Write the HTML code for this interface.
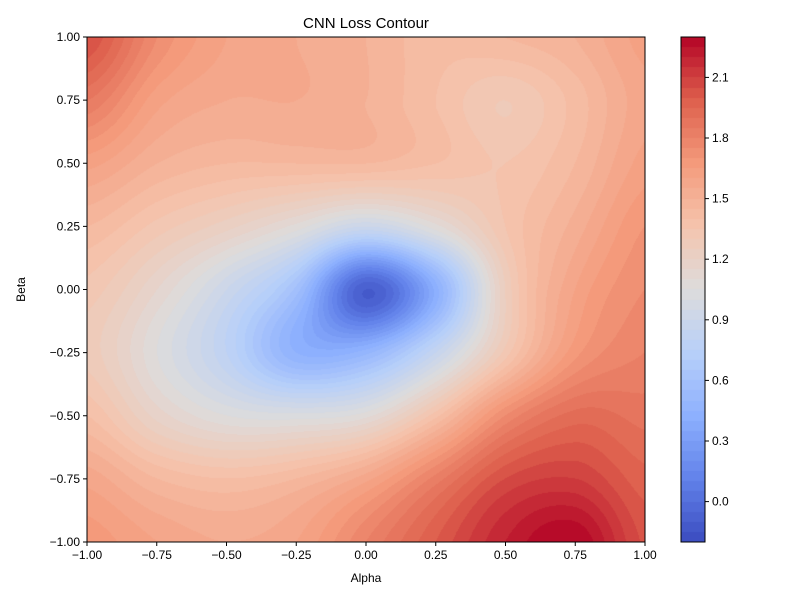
<!DOCTYPE html>
<html><head><meta charset="utf-8">
<style>
body{margin:0;background:#fff;font-family:"Liberation Sans",sans-serif;}
#wrap{position:relative;width:800px;height:600px;}
canvas{position:absolute;}
svg{position:absolute;left:0;top:0;}
text{font-family:"Liberation Sans",sans-serif;font-size:12px;fill:#000;}
</style></head>
<body>
<div id="wrap">
<canvas id="plot" width="558" height="505" style="left:87px;top:37px"></canvas>
<canvas id="cbar" width="24" height="505" style="left:681px;top:37px"></canvas>
<svg id="axes" width="800" height="600"></svg>
</div>
<script>
const alphaVals=[-1,-0.75,-0.5,-0.25,0,0.25,0.5,0.75,1];
const betaVals=[1,0.75,0.5,0.25,0,-0.25,-0.5,-0.75,-1];
const lossGrid=[
[2.05,1.75,1.6,1.55,1.5,1.42,1.45,1.5,1.62],
[1.85,1.62,1.55,1.55,1.5,1.4,1.3,1.42,1.58],
[1.62,1.5,1.45,1.45,1.45,1.4,1.35,1.45,1.62],
[1.45,1.33,1.22,1.08,0.9,1.08,1.35,1.52,1.7],
[1.33,1.15,0.9,0.58,-0.1,0.42,1.25,1.6,1.75],
[1.28,1.05,0.8,0.45,0.48,0.85,1.32,1.68,1.8],
[1.4,1.18,1.05,1.02,1.08,1.38,1.75,1.92,1.88],
[1.58,1.45,1.4,1.45,1.58,1.82,2.05,2.1,1.97],
[1.68,1.6,1.55,1.6,1.8,2.0,2.2,2.3,2.04]];
const xTicks=[-1,-0.75,-0.5,-0.25,0,0.25,0.5,0.75,1];
const yTicks=[-1,-0.75,-0.5,-0.25,0,0.25,0.5,0.75,1];
const cbTicks=[0,0.3,0.6,0.9,1.2,1.5,1.8,2.1];
const vmin=-0.2,vmax=2.3,step=0.05;
const L=87,R=645,T=37,B=542,CBL=681,CBR=705;
const sx=a=>L+(a+1)/2*(R-L), sy=b=>T+(1-b)/2*(B-T), cy=v=>B-(v-vmin)/(vmax-vmin)*(B-T);
const cm=[[0,59,76,192],[0.125,98,130,234],[0.25,141,176,254],[0.375,184,208,249],[0.5,221,220,220],[0.625,245,196,173],[0.75,244,154,123],[0.875,222,96,77],[1,180,4,38]];
function cmap(t){t=Math.max(0,Math.min(1,t));for(let i=1;i<cm.length;i++){if(t<=cm[i][0]){const a=cm[i-1],b=cm[i],f=(t-a[0])/(b[0]-a[0]);return [0,1,2].map(k=>Math.round(a[k+1]+f*(b[k+1]-a[k+1])));}}return cm[8].slice(1);}
function bandColor(v){const lv=Math.floor((v-vmin)/step);const c=vmin+(lv+0.5)*step;return cmap((c-vmin)/(vmax-vmin));}
function cr(p0,p1,p2,p3,t){return 0.5*(2*p1+(-p0+p2)*t+(2*p0-5*p1+4*p2-p3)*t*t+(-p0+3*p1-3*p2+p3)*t*t*t);}
const n=alphaVals.length;
function g(r,c){r=Math.max(0,Math.min(n-1,r));c=Math.max(0,Math.min(n-1,c));return lossGrid[r][c];}
function interp(fx,fy){const c=Math.floor(fx),r=Math.floor(fy);const tx=fx-c,ty=fy-r;const rows=[];for(let k=-1;k<=2;k++)rows.push(cr(g(r+k,c-1),g(r+k,c),g(r+k,c+1),g(r+k,c+2),tx));return cr(rows[0],rows[1],rows[2],rows[3],ty);}
const pc=document.getElementById('plot'),ctx=pc.getContext('2d');const W=pc.width,H=pc.height;const img=ctx.createImageData(W,H);
for(let y=0;y<H;y++)for(let x=0;x<W;x++){const fx=x/(W-1)*(n-1),fy=y/(H-1)*(n-1);const v=Math.max(vmin+0.001,Math.min(vmax-0.001,interp(Math.min(fx,n-1.0001),Math.min(fy,n-1.0001))));const col=bandColor(v);const i=(y*W+x)*4;img.data[i]=col[0];img.data[i+1]=col[1];img.data[i+2]=col[2];img.data[i+3]=255;}
ctx.putImageData(img,0,0);
const cb=document.getElementById('cbar'),cctx=cb.getContext('2d');
for(let y=0;y<cb.height;y++){const v=vmax-(y+0.5)/cb.height*(vmax-vmin);const c=bandColor(v);cctx.fillStyle=`rgb(${c[0]},${c[1]},${c[2]})`;cctx.fillRect(0,y,24,1);}
const svg=document.getElementById('axes');const NS='http://www.w3.org/2000/svg';
function el(t,a,txt){const e=document.createElementNS(NS,t);for(const k in a)e.setAttribute(k,a[k]);if(txt!==undefined)e.textContent=txt;svg.appendChild(e);return e;}
let e;
e=el('rect',{x:L,y:T,width:R-L,height:B-T,fill:'none',stroke:'#000','stroke-width':1});


e=el('rect',{x:CBL,y:T,width:CBR-CBL,height:B-T,fill:'none',stroke:'#000','stroke-width':1});


xTicks.forEach(v=>{const x=sx(v);el('line',{x1:x,x2:x,y1:B,y2:B+4,stroke:'#000'});
e=el('text',{x:x,y:B+17,'text-anchor':'middle'},(v<0?'\u2212':'')+Math.abs(v).toFixed(2));

});
yTicks.forEach(v=>{const y=sy(v);el('line',{x1:L-4,x2:L,y1:y,y2:y,stroke:'#000'});
e=el('text',{x:L-7,y:y+4,'text-anchor':'end'},(v<0?'\u2212':'')+Math.abs(v).toFixed(2));

});
cbTicks.forEach(v=>{const y=cy(v);el('line',{x1:CBR,x2:CBR+4,y1:y,y2:y,stroke:'#000'});
e=el('text',{x:CBR+7,y:y+4},v.toFixed(1));

});
e=el('text',{x:(L+R)/2,y:28,'text-anchor':'middle',style:'font-size:15px'},'CNN Loss Contour');


e=el('text',{x:(L+R)/2,y:582,'text-anchor':'middle'},'Alpha');


e=el('text',{x:25,y:(T+B)/2,'text-anchor':'middle',transform:`rotate(-90 25 ${(T+B)/2})`},'Beta');


</script>
</body></html>
